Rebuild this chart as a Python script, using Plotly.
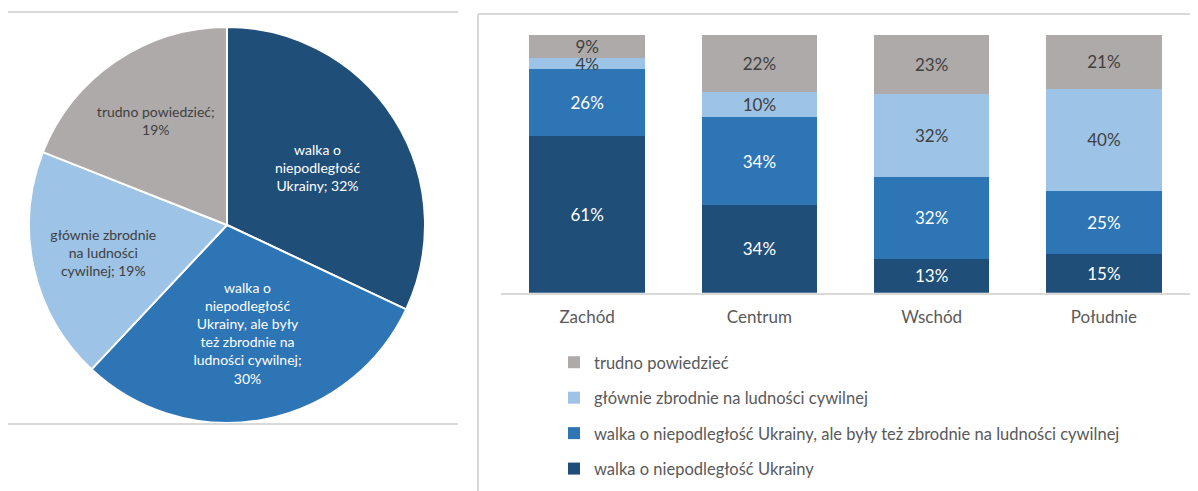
import plotly.graph_objects as go

# pie (whole sample)
pie_labels = ["walka o niepodległość Ukrainy",
              "walka o niepodległość Ukrainy, ale były też zbrodnie na ludności cywilnej",
              "głównie zbrodnie na ludności cywilnej",
              "trudno powiedzieć"]
pie_text = ["walka o<br>niepodległość<br>Ukrainy; 32%",
            "walka o<br>niepodległość<br>Ukrainy, ale były<br>też zbrodnie na<br>ludności cywilnej;<br>30%",
            "głównie zbrodnie<br>na ludności<br>cywilnej; 19%",
            "trudno powiedzieć;<br>19%"]
pie_values = [32, 30, 19, 19]

# bars by region
regions = ["Zachód", "Centrum", "Wschód", "Południe"]
walka = [61, 34, 13, 15]
walka_zbrodnie = [26, 34, 32, 25]
zbrodnie = [4, 10, 32, 40]
trudno = [9, 22, 23, 21]

colors = ["#1F4E79", "#2E75B6", "#9DC3E6", "#AEAAAA"]
text_colors = ["white", "white", "#404040", "#404040"]
FONT = "Lato"

# page has an 8px body margin, so the figure is drawn 8px in from the corner
W, H = 1190, 483
def px(x):
    return (x - 8) / W
def py(y):
    return 1 - (y - 8) / H

fig = go.Figure()

fig.add_trace(go.Pie(
    values=pie_values, labels=pie_labels, text=pie_text,
    textinfo="text", textposition="inside", insidetextorientation="horizontal",
    sort=False, direction="clockwise", rotation=0,
    marker=dict(colors=colors, line=dict(color="white", width=2)),
    insidetextfont=dict(family=FONT, size=14, color=text_colors),
    domain=dict(x=[px(29), px(425)], y=[py(423), py(27)]),
    showlegend=False, hoverinfo="skip",
))

series = [("walka o niepodległość Ukrainy", walka),
          ("walka o niepodległość Ukrainy, ale były też zbrodnie na ludności cywilnej", walka_zbrodnie),
          ("głównie zbrodnie na ludności cywilnej", zbrodnie),
          ("trudno powiedzieć", trudno)]
for i, (name, vals) in enumerate(series):
    fig.add_trace(go.Bar(
        x=regions, y=vals, name=name, legendgroup=name, legendrank=10 - i,
        text=vals, texttemplate="%{text}%", textposition="inside",
        insidetextanchor="middle", constraintext="none",
        textfont=dict(family=FONT, size=17, color=text_colors[i]),
        marker=dict(color=colors[i], line=dict(width=0)),
        hoverinfo="skip",
    ))

fig.update_layout(
    width=W, height=H,
    margin=dict(l=0, r=0, t=0, b=0),
    paper_bgcolor="white", plot_bgcolor="white",
    barmode="stack", barnorm="percent", bargap=0.33,
    font=dict(family=FONT, color="#595959"),
    xaxis=dict(domain=[px(501), px(1190)], showgrid=False, showline=True,
               linecolor="#D9D9D9", linewidth=2, ticks="", ticklabelstandoff=8,
               tickfont=dict(family=FONT, size=17, color="#595959")),
    yaxis=dict(domain=[py(292.7), py(35)], range=[0, 100], visible=False),
    legend=dict(x=px(554), y=py(345), xanchor="left", yanchor="top",
                traceorder="grouped", tracegroupgap=11,
                font=dict(family=FONT, size=16.5, color="#595959"),
                bgcolor="rgba(0,0,0,0)"),
    shapes=[
        dict(type="line", xref="paper", yref="paper", x0=px(8), x1=px(458),
             y0=py(12), y1=py(12), line=dict(color="#D9D9D9", width=2)),
        dict(type="line", xref="paper", yref="paper", x0=px(8), x1=px(458),
             y0=py(424), y1=py(424), line=dict(color="#D9D9D9", width=2)),
        dict(type="line", xref="paper", yref="paper", x0=px(478), x1=1,
             y0=py(14), y1=py(14), line=dict(color="#D9D9D9", width=2)),
        dict(type="line", xref="paper", yref="paper", x0=px(478), x1=px(478),
             y0=0, y1=py(14), line=dict(color="#D9D9D9", width=2)),
    ],
)

fig.write_html("out.html")
